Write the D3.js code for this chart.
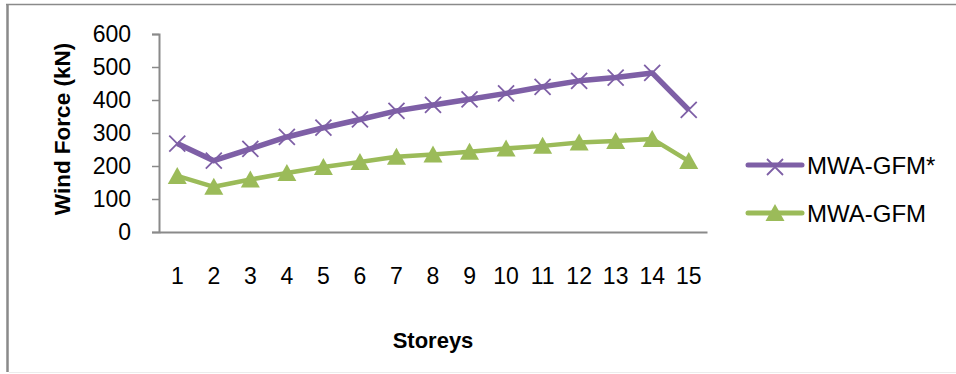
<!DOCTYPE html>
<html>
<head>
<meta charset="utf-8">
<script src="https://cdn.jsdelivr.net/npm/d3@7"></script>
<style>
  html, body { margin: 0; padding: 0; background: #fff; }
  svg { display: block; }
  text { font-family: "Liberation Sans", Arial, sans-serif; fill: #000; }
</style>
</head>
<body>
<svg id="chart" width="956" height="374"></svg>
<script>
const storeys = ["1","2","3","4","5","6","7","8","9","10","11","12","13","14","15"];
const mwaGfmStar = [268, 216, 252, 288, 316, 341, 367, 385, 402, 420, 440, 458, 468, 482, 370];
const mwaGfm = [170, 137, 159, 179, 197, 212, 228, 235, 243, 253, 261, 271, 276, 282, 215];
const yTicks = [0, 100, 200, 300, 400, 500, 600];
const seriesNames = ["MWA-GFM*", "MWA-GFM"];
const seriesColors = ["#7E5FA6", "#9BBB59"];
const xTitle = "Storeys";
const yTitle = "Wind Force (kN)";

const svg = d3.select("#chart");

// outer frame
svg.append("line").attr("x1", 7.5).attr("x2", 7.5).attr("y1", 4).attr("y2", 372)
  .attr("stroke", "#8a8a8a").attr("stroke-width", 2.5);
svg.append("line").attr("x1", 6).attr("x2", 956).attr("y1", 4.5).attr("y2", 4.5)
  .attr("stroke", "#8a8a8a").attr("stroke-width", 1.5);
svg.append("line").attr("x1", 9).attr("x2", 956).attr("y1", 372.5).attr("y2", 372.5)
  .attr("stroke", "#ececec").attr("stroke-width", 1);

const x = d3.scaleBand().domain(storeys).range([159, 707]).padding(0);
const y = d3.scaleLinear().domain([0, 600]).range([232, 34]);

// y axis
const yAxis = d3.axisLeft(y).tickValues(yTicks).tickSize(7).tickPadding(21).tickFormat(d3.format("d"));
const gy = svg.append("g").attr("transform", "translate(159,0)").call(yAxis);
gy.select(".domain").attr("stroke", "#8a8a8a").attr("stroke-width", 2);
gy.selectAll(".tick line").attr("stroke", "#8a8a8a").attr("stroke-width", 1.5);
gy.selectAll(".tick text").attr("font-size", 23).attr("font-family", "Liberation Sans, Arial, sans-serif").attr("fill", "#000");

// x axis
const xAxis = d3.axisBottom(x).tickSize(0).tickPadding(36).tickSizeOuter(0);
const gx = svg.append("g").attr("transform", "translate(0,232)").call(xAxis);
gx.select(".domain").attr("stroke", "#8a8a8a").attr("stroke-width", 2);
gx.selectAll(".tick text").attr("font-size", 23).attr("font-family", "Liberation Sans, Arial, sans-serif").attr("fill", "#000");

// titles
svg.append("text").attr("x", 433).attr("y", 348).attr("text-anchor", "middle")
  .attr("font-size", 22).attr("font-weight", "bold").text(xTitle);
svg.append("text").attr("transform", "translate(70,129) rotate(-90)").attr("text-anchor", "middle")
  .attr("font-size", 22.5).attr("font-weight", "bold").text(yTitle);

const cx = d => x(d) + x.bandwidth() / 2;
const line = d3.line().x((d, i) => cx(storeys[i])).y(d => y(d));

const xMarker = "M-8,-8L8,8M-8,8L8,-8";
const triMarker = "M0,-9L9.5,8L-9.5,8Z";

// purple series
svg.append("path").datum(mwaGfmStar).attr("d", line).attr("fill", "none")
  .attr("stroke", seriesColors[0]).attr("stroke-width", 5.5).attr("stroke-linejoin", "round");
svg.append("g").selectAll("path").data(mwaGfmStar).join("path")
  .attr("transform", (d, i) => `translate(${cx(storeys[i])},${y(d)})`)
  .attr("d", xMarker).attr("stroke", seriesColors[0]).attr("stroke-width", 1.8).attr("fill", "none");

// green series
svg.append("path").datum(mwaGfm).attr("d", line).attr("fill", "none")
  .attr("stroke", seriesColors[1]).attr("stroke-width", 4.5).attr("stroke-linejoin", "round");
svg.append("g").selectAll("path").data(mwaGfm).join("path")
  .attr("transform", (d, i) => `translate(${cx(storeys[i])},${y(d)})`)
  .attr("d", triMarker).attr("fill", seriesColors[1]);

// legend
const legend = svg.append("g");
const legY = [165, 213];
seriesNames.forEach((name, i) => {
  const g = legend.append("g").attr("transform", `translate(0,${legY[i]})`);
  g.append("line").attr("x1", 748).attr("x2", 802).attr("y1", 0).attr("y2", 0)
    .attr("stroke", seriesColors[i]).attr("stroke-width", 5).attr("stroke-linecap", "round");
  if (i === 0) {
    g.append("path").attr("transform", "translate(775,2)").attr("d", xMarker)
      .attr("stroke", seriesColors[0]).attr("stroke-width", 1.8).attr("fill", "none");
  } else {
    g.append("path").attr("transform", "translate(775,0)").attr("d", triMarker).attr("fill", seriesColors[1]);
  }
  g.append("text").attr("x", 807).attr("y", 8.5).attr("font-size", 24).text(name);
});
</script>
</body>
</html>
